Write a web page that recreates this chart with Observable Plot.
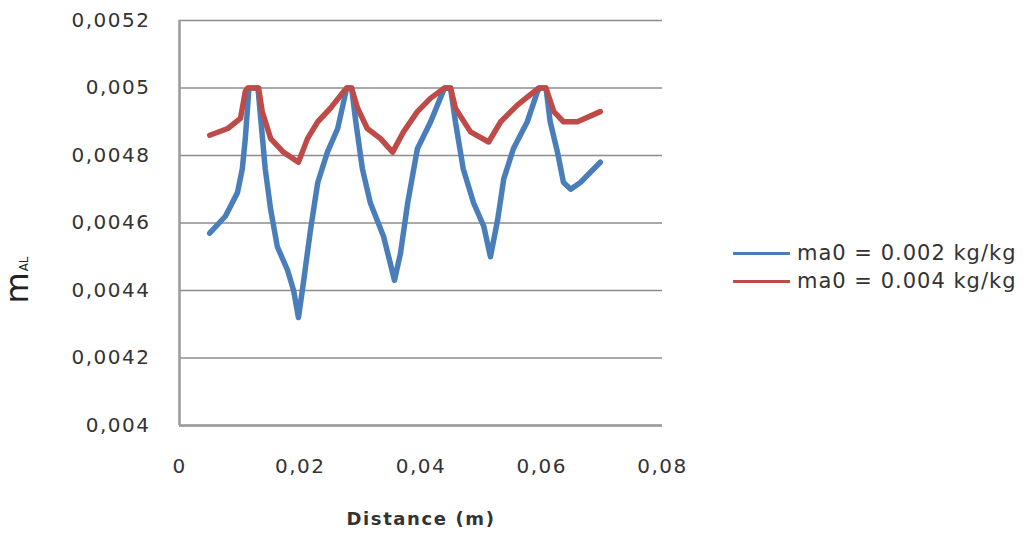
<!DOCTYPE html>
<html>
<head>
<meta charset="utf-8">
<script src="https://cdn.jsdelivr.net/npm/d3@7"></script>
<script src="https://cdn.jsdelivr.net/npm/@observablehq/plot@0.6"></script>
<style>
  html, body { margin: 0; padding: 0; background: #fff; }
  #wrap { position: relative; width: 1035px; height: 535px; font-family: "DejaVu Sans", sans-serif; color: #333; }
  #ylabel { position: absolute; left: 17px; top: 280px; transform: translate(-50%, -50%) rotate(-90deg); white-space: nowrap; font-size: 32px; line-height: 1; color: #222; }
  #ylabel sub { font-size: 12px; vertical-align: baseline; position: relative; top: 0; margin-left: 1px; }
  #xlabel { position: absolute; left: 421px; top: 508px; transform: translateX(-50%); font-weight: bold; font-size: 18px; letter-spacing: 1.6px; white-space: nowrap; color: #333; }
  .leg { position: absolute; left: 733px; display: flex; align-items: center; white-space: nowrap; font-size: 21px; letter-spacing: 1px; color: #333; }
  .leg span.sw { display: inline-block; width: 57px; height: 3px; margin-right: 7px; }
</style>
</head>
<body>
<div id="wrap">
  <div id="ylabel">m<sub>AL</sub></div>
  <div id="xlabel">Distance (m)</div>
</div>
<script>
// Series labels and colours
const seriesNames = ["ma0 = 0.002 kg/kg", "ma0 = 0.004 kg/kg"];
const seriesColors = ["#4a7ebb", "#be4b48"];

// Axis ticks
const xTicks = [0, 0.02, 0.04, 0.06, 0.08];
const yTicks = [0.004, 0.0042, 0.0044, 0.0046, 0.0048, 0.005, 0.0052];

// ma0 = 0.002 kg/kg : distance (m) and mass fraction
const lowX = [0.005, 0.0076, 0.0096, 0.0104, 0.0109, 0.0115, 0.013, 0.0134, 0.0142, 0.0151,
  0.0162, 0.0179, 0.0189, 0.0197, 0.0205, 0.0217, 0.0229, 0.0245, 0.0262, 0.0277,
  0.0285, 0.0292, 0.0303, 0.0316, 0.0338, 0.0352, 0.0356, 0.0366, 0.0378, 0.0394,
  0.0416, 0.0432, 0.0439, 0.0449, 0.0457, 0.047, 0.0487, 0.0504, 0.0515, 0.0527,
  0.0537, 0.0553, 0.0576, 0.0593, 0.0597, 0.0607, 0.0614, 0.0626, 0.0636, 0.0648,
  0.0664, 0.0697];
const lowY = [0.00457, 0.00462, 0.00469, 0.00476, 0.00485, 0.005, 0.005, 0.00492, 0.00476, 0.00464,
  0.00453, 0.00446, 0.0044, 0.00432, 0.00442, 0.00458, 0.00472, 0.00481, 0.00488, 0.005,
  0.005, 0.0049, 0.00476, 0.00466, 0.00456, 0.00446, 0.00443, 0.00451, 0.00466, 0.00482,
  0.0049, 0.00497, 0.005, 0.005, 0.0049, 0.00476, 0.00466, 0.00459, 0.0045, 0.00461,
  0.00473, 0.00482, 0.0049, 0.00499, 0.005, 0.005, 0.0049, 0.00481, 0.00472, 0.0047,
  0.00472, 0.00478];

// ma0 = 0.004 kg/kg : distance (m) and mass fraction
const highX = [0.005, 0.008, 0.0101, 0.0109, 0.0113, 0.0131, 0.0137, 0.0151, 0.0172, 0.0197,
  0.0212, 0.0229, 0.025, 0.0272, 0.0277, 0.0285, 0.0295, 0.0311, 0.0333, 0.0353,
  0.0371, 0.0394, 0.0416, 0.0439, 0.0449, 0.0457, 0.0482, 0.0512, 0.0532, 0.056,
  0.0595, 0.0607, 0.062, 0.0636, 0.0659, 0.0697];
const highY = [0.00486, 0.00488, 0.00491, 0.00499, 0.005, 0.005, 0.00493, 0.00485, 0.00481, 0.00478,
  0.00485, 0.0049, 0.00494, 0.00499, 0.005, 0.005, 0.00494, 0.00488, 0.00485, 0.00481,
  0.00487, 0.00493, 0.00497, 0.005, 0.005, 0.00494, 0.00487, 0.00484, 0.0049, 0.00495,
  0.005, 0.005, 0.00493, 0.0049, 0.0049, 0.00493];

const rows = (xs, ys, s) => xs.map((x, i) => ({x, y: ys[i], s}));
const low = rows(lowX, lowY, seriesNames[0]);
const high = rows(highX, highY, seriesNames[1]);

const fmt = d => String(+d.toFixed(4)).replace(".", ",");
const gray = "#8c8c8c";

const chart = Plot.plot({
  width: 1035,
  height: 535,
  marginLeft: 179,
  marginRight: 373,
  marginTop: 20,
  marginBottom: 110,
  style: {fontFamily: "DejaVu Sans, sans-serif", fontSize: "20px", letterSpacing: "1.5px", color: "#333", background: "transparent"},
  x: {domain: [0, 0.08]},
  y: {domain: [0.004, 0.0052]},
  marks: [
    Plot.gridY(yTicks, {stroke: gray, strokeOpacity: 1, strokeWidth: 1.5}),
    Plot.ruleX([0], {stroke: "#9a9a9a", strokeWidth: 2.5}),
    Plot.ruleY([0.004], {stroke: "#9a9a9a", strokeWidth: 2.5}),
    Plot.axisY(yTicks, {tickSize: 0, tickPadding: 29, tickFormat: fmt, label: null, fontSize: 20}),
    Plot.axisX(xTicks, {tickSize: 0, tickPadding: 33, tickFormat: fmt, label: null, fontSize: 20}),
    Plot.line(low, {x: "x", y: "y", stroke: seriesColors[0], strokeWidth: 5.5, strokeLinejoin: "round", strokeLinecap: "round"}),
    Plot.line(high, {x: "x", y: "y", stroke: seriesColors[1], strokeWidth: 5.5, strokeLinejoin: "round", strokeLinecap: "round"})
  ]
});

const wrap = document.getElementById("wrap");
wrap.insertBefore(chart, wrap.firstChild);

// Legend to the right of the plot
const legendTops = [253, 281];
seriesNames.forEach((name, i) => {
  const item = document.createElement("div");
  item.className = "leg";
  item.style.top = (legendTops[i] - 12) + "px";
  item.style.height = "24px";
  const sw = document.createElement("span");
  sw.className = "sw";
  sw.style.background = seriesColors[i];
  item.appendChild(sw);
  item.appendChild(document.createTextNode(name));
  wrap.appendChild(item);
});
</script>
</body>
</html>
